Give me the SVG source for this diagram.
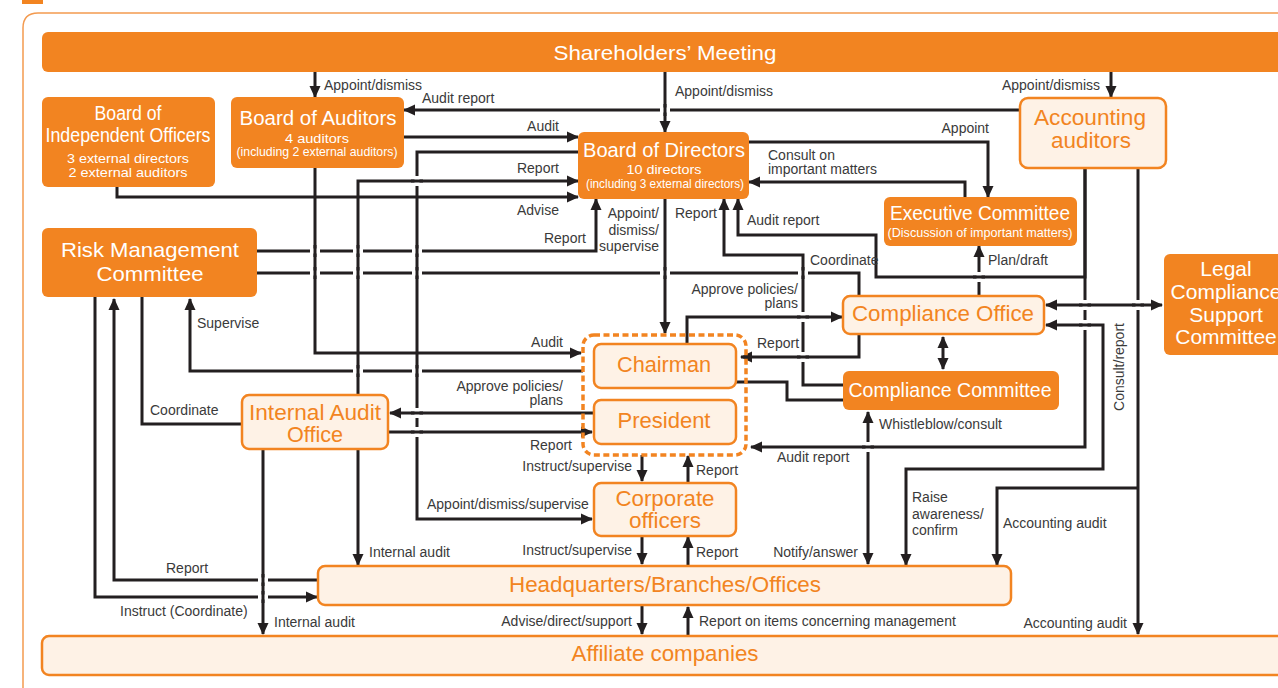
<svg xmlns="http://www.w3.org/2000/svg" width="1278" height="688" viewBox="0 0 1278 688">
<style>
.ln{fill:none;stroke:#231f20;stroke-width:3;stroke-linejoin:miter}
.ar{marker-end:url(#ah)}
.ab{marker-start:url(#ah);marker-end:url(#ah)}
.lb{font-family:"Liberation Sans",Arial,sans-serif;font-size:14px;fill:#3a3a3a}
.e{text-anchor:end}
.ob{fill:#F28421}
.lt{fill:#FEF2E6;stroke:#F28421;stroke-width:2.5}
.wt{font-family:"Liberation Sans",Arial,sans-serif;fill:#fff;text-anchor:middle}
.ot{font-family:"Liberation Sans",Arial,sans-serif;fill:#F28421;text-anchor:middle;font-size:22px}
.gw{fill:#fff}
</style>
<defs>
<marker id="ah" viewBox="0 0 12 12" refX="11" refY="6" markerWidth="12" markerHeight="12" markerUnits="userSpaceOnUse" orient="auto-start-reverse"><path d="M0,0.5 L12,6 L0,11.5 z" fill="#231f20"/></marker>
</defs>
<rect width="1278" height="688" fill="#fff"/>
<rect x="22" y="-10" width="21" height="14" fill="#F28421"/>
<path d="M23,688 V28 Q23,13 38,13 H1290" fill="none" stroke="#F39A4F" stroke-width="1.5"/>

<g id="connectors">
<path class="ln ar" d="M315,72 V97"/>
<path class="ln ar" d="M665,72 V132"/>
<path class="ln ar" d="M1111,72 V97"/>
<path class="ln ar" d="M1019,110 H404"/>
<path class="ln ar" d="M404,137 H578"/>
<path class="ln ar" d="M749,142 H988 V197"/>
<path class="ln ar" d="M965,197 V182 H749"/>
<path class="ln ar" d="M315,168 V353 H581"/>
<path class="ln ar" d="M117,187 V197 H578"/>
<path class="ln ar" d="M358,395 V181 H578"/>
<path class="ln ar" d="M358,449 V565"/>
<path class="ln ar" d="M578,152 H417 V519 H592"/>
<path class="ln ar" d="M257,251 H596 V199"/>
<path class="ln" d="M257,273 H859 V296"/>
<path class="ln ar" d="M665,199 V333"/>
<path class="ln ar" d="M843,385 H803 V255 H724 V199"/>
<path class="ln ar" d="M1085,168 V277 H876 V235 H738 V199"/>
<path class="ln ar" d="M1085,168 V447 H751"/>
<path class="ln ar" d="M1138,168 V634"/>
<path class="ln ar" d="M1138,488 H997 V565"/>
<path class="ln ar" d="M979,296 V246"/>
<path class="ln ab" d="M1046,305 H1162"/>
<path class="ln ab" d="M1046,325 H1103 V469 H906 V565"/>
<path class="ln ab" d="M943,337 V369"/>
<path class="ln ar" d="M687,344 V317 H842"/>
<path class="ln ar" d="M859,334 V357 H741"/>
<path class="ln" d="M736,382 H787 V400 H843"/>
<path class="ln ab" d="M868,412 V564"/>
<path class="ln ar" d="M583,371 H190 V299"/>
<path class="ln ar" d="M594,413 H390"/>
<path class="ln ar" d="M389,432 H592"/>
<path class="ln" d="M242,424 H142 V297"/>
<path class="ln ar" d="M263,449 V634"/>
<path class="ln ar" d="M95,297 V597 H317"/>
<path class="ln ar" d="M318,580 H114 V299"/>
<path class="ln ar" d="M642,455 V481"/>
<path class="ln ar" d="M688,483 V456"/>
<path class="ln ar" d="M642,536 V564"/>
<path class="ln ar" d="M688,566 V537"/>
<path class="ln ar" d="M642,605 V634"/>
<path class="ln ar" d="M688,636 V607"/>
<g id="crossings">
<rect class="gw" x="660" y="107.5" width="10" height="5"/><line class="ln" x1="665" y1="104" x2="665" y2="116"/>
<rect class="gw" x="310" y="248.5" width="10" height="5"/><line class="ln" x1="315" y1="245" x2="315" y2="257"/>
<rect class="gw" x="353" y="248.5" width="10" height="5"/><line class="ln" x1="358" y1="245" x2="358" y2="257"/>
<rect class="gw" x="412" y="248.5" width="10" height="5"/><line class="ln" x1="417" y1="245" x2="417" y2="257"/>
<rect class="gw" x="310" y="270.5" width="10" height="5"/><line class="ln" x1="315" y1="267" x2="315" y2="279"/>
<rect class="gw" x="353" y="270.5" width="10" height="5"/><line class="ln" x1="358" y1="267" x2="358" y2="279"/>
<rect class="gw" x="412" y="270.5" width="10" height="5"/><line class="ln" x1="417" y1="267" x2="417" y2="279"/>
<rect class="gw" x="660" y="270.5" width="10" height="5"/><line class="ln" x1="665" y1="267" x2="665" y2="279"/>
<rect class="gw" x="798" y="270.5" width="10" height="5"/><line class="ln" x1="803" y1="267" x2="803" y2="279"/>
<rect class="gw" x="353" y="368.5" width="10" height="5"/><line class="ln" x1="358" y1="365" x2="358" y2="377"/>
<rect class="gw" x="412" y="368.5" width="10" height="5"/><line class="ln" x1="417" y1="365" x2="417" y2="377"/>
<rect class="gw" x="258" y="577.5" width="10" height="5"/><line class="ln" x1="263" y1="574" x2="263" y2="586"/>
<rect class="gw" x="258" y="594.5" width="10" height="5"/><line class="ln" x1="263" y1="591" x2="263" y2="603"/>
<rect class="gw" x="414.5" y="176" width="5" height="10"/><line class="ln" x1="411" y1="181" x2="423" y2="181"/>
<rect class="gw" x="976.5" y="272" width="5" height="10"/><line class="ln" x1="973" y1="277" x2="985" y2="277"/>
<rect class="gw" x="800.5" y="312" width="5" height="10"/><line class="ln" x1="797" y1="317" x2="809" y2="317"/>
<rect class="gw" x="800.5" y="352" width="5" height="10"/><line class="ln" x1="797" y1="357" x2="809" y2="357"/>
<rect class="gw" x="865.5" y="442" width="5" height="10"/><line class="ln" x1="862" y1="447" x2="874" y2="447"/>
<rect class="gw" x="1082.5" y="300" width="5" height="10"/><line class="ln" x1="1079" y1="305" x2="1091" y2="305"/>
<rect class="gw" x="1082.5" y="320" width="5" height="10"/><line class="ln" x1="1079" y1="325" x2="1091" y2="325"/>
<rect class="gw" x="1135.5" y="300" width="5" height="10"/><line class="ln" x1="1132" y1="305" x2="1144" y2="305"/>
<rect class="gw" x="414.5" y="408" width="5" height="10"/><line class="ln" x1="411" y1="413" x2="423" y2="413"/>
<rect class="gw" x="414.5" y="427" width="5" height="10"/><line class="ln" x1="411" y1="432" x2="423" y2="432"/>
</g>
<g id="labels">
<text class="lb" x="324" y="90">Appoint/dismiss</text>
<text class="lb" x="422" y="103">Audit report</text>
<text class="lb" x="675" y="96">Appoint/dismiss</text>
<text class="lb e" x="1100" y="90">Appoint/dismiss</text>
<text class="lb e" x="559" y="131">Audit</text>
<text class="lb e" x="989" y="133">Appoint</text>
<text class="lb" x="768" y="160">Consult on</text>
<text class="lb" x="768" y="174">important matters</text>
<text class="lb e" x="559" y="173">Report</text>
<text class="lb e" x="559" y="215">Advise</text>
<text class="lb e" x="586" y="243">Report</text>
<text class="lb e" x="659" y="218">Appoint/</text>
<text class="lb e" x="659" y="235">dismiss/</text>
<text class="lb e" x="659" y="251">supervise</text>
<text class="lb e" x="717" y="218">Report</text>
<text class="lb" x="747" y="225">Audit report</text>
<text class="lb" x="810" y="265">Coordinate</text>
<text class="lb" x="988" y="265">Plan/draft</text>
<text class="lb e" x="798" y="294">Approve policies/</text>
<text class="lb e" x="798" y="308">plans</text>
<text class="lb" x="197" y="328">Supervise</text>
<text class="lb e" x="563" y="347">Audit</text>
<text class="lb" x="757" y="348">Report</text>
<text class="lb e" x="563" y="391">Approve policies/</text>
<text class="lb e" x="563" y="405">plans</text>
<text class="lb" x="150" y="415">Coordinate</text>
<text class="lb" x="879" y="429">Whistleblow/consult</text>
<text class="lb e" x="572" y="450">Report</text>
<text class="lb" x="777" y="462">Audit report</text>
<text class="lb e" x="632" y="471">Instruct/supervise</text>
<text class="lb" x="696" y="475">Report</text>
<text class="lb" x="427" y="509">Appoint/dismiss/supervise</text>
<text class="lb" x="912" y="502">Raise</text>
<text class="lb" x="912" y="519">awareness/</text>
<text class="lb" x="912" y="535">confirm</text>
<text class="lb" x="1003" y="528">Accounting audit</text>
<text class="lb e" x="632" y="555">Instruct/supervise</text>
<text class="lb" x="696" y="557">Report</text>
<text class="lb" x="369" y="557">Internal audit</text>
<text class="lb e" x="858" y="557">Notify/answer</text>
<text class="lb" x="166" y="573">Report</text>
<text class="lb" x="120" y="616">Instruct (Coordinate)</text>
<text class="lb" x="274" y="627">Internal audit</text>
<text class="lb e" x="632" y="626">Advise/direct/support</text>
<text class="lb" x="699" y="626">Report on items concerning management</text>
<text class="lb e" x="1127" y="628">Accounting audit</text>
<text class="lb" transform="translate(1124,367) rotate(-90)" text-anchor="middle">Consult/report</text>
</g>
</g>

<g id="shareholders"><rect class="ob" x="42" y="32" width="1260" height="40" rx="6"/><text class="wt" x="665" y="60" font-size="21" textLength="223" lengthAdjust="spacingAndGlyphs">Shareholders’ Meeting</text></g>
<g id="independent-officers"><rect class="ob" x="42" y="97" width="173" height="90" rx="6"/>
<text class="wt" x="128" y="120" font-size="20" textLength="67" lengthAdjust="spacingAndGlyphs">Board of</text>
<text class="wt" x="128" y="142" font-size="20" textLength="165" lengthAdjust="spacingAndGlyphs">Independent Officers</text>
<text class="wt" x="128" y="163" font-size="13.5" textLength="122" lengthAdjust="spacingAndGlyphs">3 external directors</text>
<text class="wt" x="128" y="177" font-size="13.5" textLength="119" lengthAdjust="spacingAndGlyphs">2 external auditors</text></g>
<g id="board-auditors"><rect class="ob" x="231" y="97" width="173" height="71" rx="6"/>
<text class="wt" x="318" y="125" font-size="20" textLength="157" lengthAdjust="spacingAndGlyphs">Board of Auditors</text>
<text class="wt" x="317" y="143" font-size="13.5" textLength="64" lengthAdjust="spacingAndGlyphs">4 auditors</text>
<text class="wt" x="317" y="156" font-size="13" textLength="161" lengthAdjust="spacingAndGlyphs">(including 2 external auditors)</text></g>
<g id="board-directors"><rect class="ob" x="578" y="132" width="171" height="67" rx="6"/>
<text class="wt" x="664" y="157" font-size="20" textLength="162" lengthAdjust="spacingAndGlyphs">Board of Directors</text>
<text class="wt" x="664" y="174" font-size="13.5" textLength="75" lengthAdjust="spacingAndGlyphs">10 directors</text>
<text class="wt" x="665" y="188" font-size="13" textLength="158" lengthAdjust="spacingAndGlyphs">(including 3 external directors)</text></g>
<g id="accounting-auditors"><rect class="lt" x="1020" y="98" width="146" height="70" rx="8"/>
<text class="ot" x="1090" y="125" textLength="112" lengthAdjust="spacingAndGlyphs">Accounting</text>
<text class="ot" x="1091" y="148" textLength="80" lengthAdjust="spacingAndGlyphs">auditors</text></g>
<g id="executive-committee"><rect class="ob" x="884" y="197" width="193" height="49" rx="6"/>
<text class="wt" x="980" y="220" font-size="20" textLength="180" lengthAdjust="spacingAndGlyphs">Executive Committee</text>
<text class="wt" x="980" y="237" font-size="13" textLength="185" lengthAdjust="spacingAndGlyphs">(Discussion of important matters)</text></g>
<g id="risk-management"><rect class="ob" x="42" y="228" width="215" height="69" rx="6"/>
<text class="wt" x="150" y="257" font-size="21" textLength="178" lengthAdjust="spacingAndGlyphs">Risk Management</text>
<text class="wt" x="150" y="281" font-size="21" textLength="107" lengthAdjust="spacingAndGlyphs">Committee</text></g>
<g id="legal-compliance"><rect class="ob" x="1164" y="254" width="140" height="101" rx="6"/>
<text class="wt" x="1226" y="276" font-size="21">Legal</text>
<text class="wt" x="1226" y="299" font-size="21">Compliance</text>
<text class="wt" x="1226" y="322" font-size="21">Support</text>
<text class="wt" x="1226" y="344" font-size="21">Committee</text></g>
<g id="compliance-office"><rect class="lt" x="843" y="296" width="201" height="38" rx="7"/>
<text class="ot" x="943" y="321" textLength="182" lengthAdjust="spacingAndGlyphs">Compliance Office</text></g>
<g id="compliance-committee"><rect class="ob" x="843" y="371" width="216" height="39" rx="6"/>
<text class="wt" x="950" y="397" font-size="21" textLength="203" lengthAdjust="spacingAndGlyphs">Compliance Committee</text></g>
<g id="top-management"><rect x="583" y="335" width="163" height="120" rx="11" fill="none" stroke="#F28421" stroke-width="3.5" stroke-dasharray="6 3.5"/></g>
<g id="chairman"><rect class="lt" x="594" y="344" width="142" height="44" rx="7"/>
<text class="ot" x="664" y="372" textLength="94" lengthAdjust="spacingAndGlyphs">Chairman</text></g>
<g id="president"><rect class="lt" x="594" y="400" width="142" height="44" rx="7"/>
<text class="ot" x="664" y="428" textLength="93" lengthAdjust="spacingAndGlyphs">President</text></g>
<g id="corporate-officers"><rect class="lt" x="594" y="483" width="142" height="53" rx="7"/>
<text class="ot" x="665" y="506" textLength="99" lengthAdjust="spacingAndGlyphs">Corporate</text>
<text class="ot" x="665" y="528" textLength="72" lengthAdjust="spacingAndGlyphs">officers</text></g>
<g id="internal-audit"><rect class="lt" x="242" y="395" width="146" height="54" rx="7"/>
<text class="ot" x="315" y="420" textLength="132" lengthAdjust="spacingAndGlyphs">Internal Audit</text>
<text class="ot" x="315" y="442" textLength="56" lengthAdjust="spacingAndGlyphs">Office</text></g>
<g id="headquarters"><rect class="lt" x="318" y="566" width="693" height="39" rx="7"/>
<text class="ot" x="665" y="592" textLength="312" lengthAdjust="spacingAndGlyphs">Headquarters/Branches/Offices</text></g>
<g id="affiliates"><rect class="lt" x="42" y="636" width="1262" height="39" rx="7"/>
<text class="ot" x="665" y="661" textLength="187" lengthAdjust="spacingAndGlyphs">Affiliate companies</text></g>
</svg>
